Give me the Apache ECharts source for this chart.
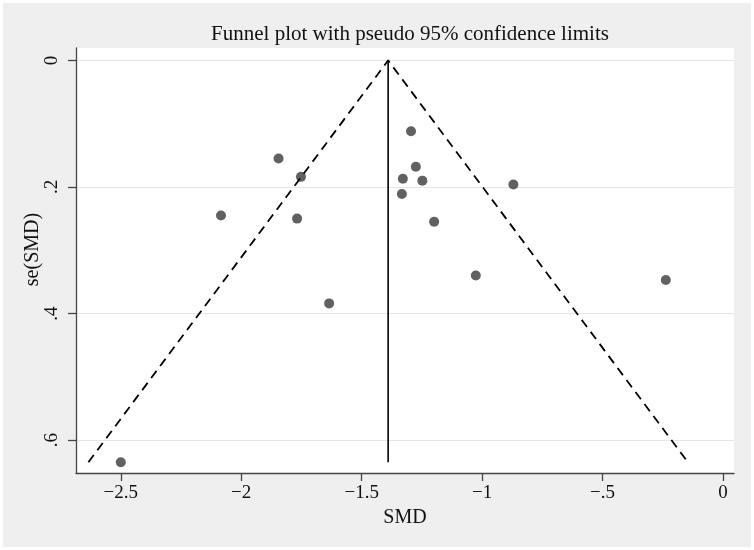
<!DOCTYPE html>
<html>
<head>
<meta charset="utf-8">
<script src="https://cdn.jsdelivr.net/npm/echarts@6/dist/echarts.min.js"></script>
<style>
html,body{margin:0;padding:0;background:#ffffff;}
#chart{width:754px;height:550px;}
</style>
</head>
<body>
<div id="chart"></div>
<script>
// Study estimates: SMD and its standard error
var smd = [-1.845, -1.752, -2.084, -1.768, -1.635, -1.295, -1.275, -1.329, -1.248, -1.333, -0.870, -1.199, -1.026, -0.237, -2.500];
var seSmd = [0.155, 0.184, 0.245, 0.250, 0.384, 0.112, 0.168, 0.187, 0.190, 0.211, 0.196, 0.255, 0.340, 0.347, 0.635];
// Pooled estimate and maximum SE for the pseudo 95% funnel
var pooled = -1.39;
var seMax = 0.635;
var xTicks = [-2.5, -2, -1.5, -1, -0.5, 0];
var yTicks = [0, 0.2, 0.4, 0.6];

var points = smd.map(function (v, i) { return [v, seSmd[i]]; });
var funnel = [[pooled - 1.96 * seMax, seMax], [pooled, 0], [pooled + 1.96 * seMax, seMax]];
var centerLine = [[pooled, 0], [pooled, seMax]];

function fmt(v) {
  if (Math.abs(v) < 1e-9) return '0';
  var s = String(Math.abs(Math.round(v * 10) / 10)).replace(/^0\./, '.');
  return (v < 0 ? '\u2212' : '') + s;
}

var font = 'Liberation Serif';
var chart = echarts.init(document.getElementById('chart'), null, {renderer: 'canvas'});
chart.setOption({
  backgroundColor: '#ffffff',
  animation: false,
  graphic: [{
    type: 'rect', z: -100, silent: true,
    shape: {x: 3, y: 3, width: 748, height: 544},
    style: {fill: '#efefef'}
  }],
  title: {
    text: 'Funnel plot with pseudo 95% confidence limits',
    left: 405, textAlign: 'center', top: 19,
    textStyle: {fontFamily: font, fontSize: 21, fontWeight: 'normal', color: '#111'}
  },
  grid: {
    left: 76, right: 20, top: 48, bottom: 77,
    show: true, backgroundColor: '#ffffff', borderWidth: 0
  },
  xAxis: {
    type: 'value', min: -2.686, max: 0.046,
    name: 'SMD', nameLocation: 'middle', nameGap: 34,
    nameTextStyle: {fontFamily: font, fontSize: 20, color: '#111'},
    axisLine: {show: true, onZero: false, lineStyle: {color: '#444', width: 1.3}},
    axisTick: {show: true, length: 8, customValues: xTicks, lineStyle: {color: '#444', width: 1.3}},
    axisLabel: {customValues: xTicks, formatter: fmt, margin: 11, fontFamily: font, fontSize: 19, color: '#111'},
    splitLine: {show: false}
  },
  yAxis: {
    type: 'value', inverse: true, min: -0.0196, max: 0.652,
    name: 'se(SMD)', nameLocation: 'middle', nameGap: 33, nameRotate: 90,
    nameMoveOverlap: false,
    nameTextStyle: {fontFamily: font, fontSize: 20, color: '#111', padding: [0, 0, 0, 22]},
    axisLine: {show: true, onZero: false, lineStyle: {color: '#444', width: 1.3}},
    axisTick: {show: true, length: 8, customValues: yTicks, lineStyle: {color: '#444', width: 1.3}},
    axisLabel: {customValues: yTicks, formatter: fmt, rotate: 90, margin: 14, fontFamily: font, fontSize: 19, color: '#111'},
    splitLine: {show: true, lineStyle: {color: '#e6e6e6', width: 1}}
  },
  series: [
    {
      type: 'line', data: funnel, symbol: 'none', silent: true,
      lineStyle: {color: '#000', width: 1.8, type: [9, 6]}
    },
    {
      type: 'line', data: centerLine, symbol: 'none', silent: true,
      lineStyle: {color: '#000', width: 1.6}
    },
    {
      type: 'scatter', data: points, symbol: 'circle', symbolSize: 10,
      itemStyle: {color: '#3a3a3a'}
    }
  ]
});
</script>
</body>
</html>
